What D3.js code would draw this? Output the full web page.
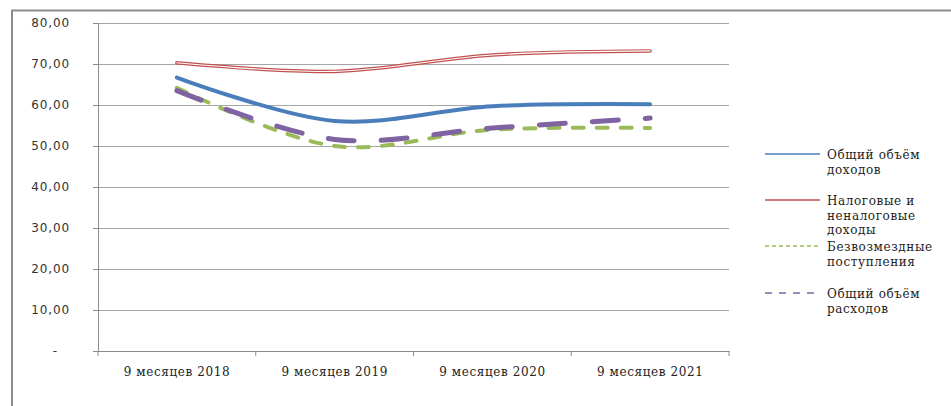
<!DOCTYPE html>
<html>
<head>
<meta charset="utf-8">
<script src="https://cdn.jsdelivr.net/npm/d3@7"></script>
<style>
  body { margin: 0; background: #fff; }
  #chart { width: 951px; height: 406px; }
</style>
</head>
<body>
<div id="chart"></div>
<script>
// Categories and series
const categories = ['9 месяцев 2018', '9 месяцев 2019', '9 месяцев 2020', '9 месяцев 2021'];
const totalIncome = [66.7, 56.1, 59.7, 60.2];
const taxIncome = [70.3, 68.2, 72.2, 73.2];
const grants = [64.2, 50.0, 54.0, 54.4];
const totalExpense = [63.5, 51.6, 54.4, 56.8];
const yTicks = [0, 10, 20, 30, 40, 50, 60, 70, 80];

const series = [
  { name: ['Общий объём', 'доходов'], values: totalIncome, color: '#4a7ebb', width: 4, dash: null },
  { name: ['Налоговые и', 'неналоговые', 'доходы'], values: taxIncome, color: '#c0504d', width: 3.5, dash: null, double: true },
  { name: ['Безвозмездные', 'поступления'], values: grants, color: '#9bbb59', width: 4, dash: '11,13' },
  { name: ['Общий объём', 'расходов'], values: totalExpense, color: '#8064a2', width: 5, dash: '26,27' }
];

const container = d3.select('#chart');
const svg = container.append('svg')
  .attr('width', 951)
  .attr('height', 406);

// outer frame (left and top edges visible)
svg.append('path')
  .attr('d', 'M12,406V10.5H951')
  .attr('fill', 'none')
  .attr('stroke', '#8c8c8c')
  .attr('stroke-width', 2);

const margin = { top: 23, left: 98, right: 222, bottom: 55 };
const width = 951 - margin.left - margin.right;
const height = 406 - margin.top - margin.bottom;

const g = svg.append('g')
  .attr('transform', `translate(${margin.left},${margin.top})`);

const x = d3.scaleBand()
  .domain(categories)
  .range([0, width]);

const y = d3.scaleLinear()
  .domain([0, 80])
  .range([height, 0]);

// gridlines
g.append('g')
  .selectAll('line')
  .data(yTicks)
  .enter().append('line')
    .attr('x1', 0)
    .attr('x2', width)
    .attr('y1', d => Math.round(y(d)) + 0.5)
    .attr('y2', d => Math.round(y(d)) + 0.5)
    .attr('stroke', '#a6a6a6')
    .attr('stroke-width', 1);

// y axis
const yAxis = g.append('g')
  .call(d3.axisLeft(y).tickValues(yTicks).tickSize(5).tickPadding(23)
    .tickFormat(d => d === 0 ? '-' : d3.format('.2f')(d).replace('.', ',')));
yAxis.select('.domain').attr('stroke', '#8c8c8c');
yAxis.selectAll('.tick line').attr('stroke', '#8c8c8c');
yAxis.selectAll('.tick text')
  .attr('font-family', 'DejaVu Sans')
  .attr('font-size', 12)
  .attr('letter-spacing', 0.9)
  .attr('fill', '#333');
yAxis.selectAll('.tick text').filter(d => d === 0).attr('dx', -12);

// x axis
const xAxis = g.append('g')
  .attr('transform', `translate(0,${height})`)
  .call(d3.axisBottom(x).tickSize(0).tickPadding(16));
xAxis.select('.domain').attr('stroke', '#8c8c8c');
xAxis.selectAll('.tick text')
  .attr('font-family', 'DejaVu Serif')
  .attr('font-size', 12)
  .attr('letter-spacing', 0.6)
  .attr('fill', '#222');
g.append('g')
  .selectAll('line')
  .data(categories.concat(['end']))
  .enter().append('line')
    .attr('x1', (d, i) => i < categories.length ? x(d) : width)
    .attr('x2', (d, i) => i < categories.length ? x(d) : width)
    .attr('y1', height)
    .attr('y2', height + 5)
    .attr('stroke', '#8c8c8c');

// lines
const line = d3.line()
  .x((d, i) => x(categories[i]) + x.bandwidth() / 2)
  .y(d => y(d))
  .curve(d3.curveCatmullRom.alpha(0.5));

series.forEach(s => {
  g.append('path')
    .datum(s.values)
    .attr('d', line)
    .attr('fill', 'none')
    .attr('stroke', s.color)
    .attr('stroke-width', s.width)
    .attr('stroke-linecap', 'round')
    .attr('stroke-dasharray', s.dash);
  if (s.double) {
    g.append('path')
      .datum(s.values)
      .attr('d', line)
      .attr('fill', 'none')
      .attr('stroke', '#fff')
      .attr('stroke-width', 1.2)
      .attr('stroke-linecap', 'round');
  }
});

// legend
const legendY = [154, 200, 246, 293];
const legend = svg.append('g');
series.forEach((s, i) => {
  const item = legend.append('g').attr('transform', `translate(765,${legendY[i]})`);
  item.append('line')
    .attr('x1', 0).attr('x2', 55)
    .attr('stroke', s.color)
    .attr('stroke-width', s.double ? 1.5 : 1.5)
    .attr('stroke-dasharray', s.dash ? (i === 2 ? '4,3' : '7,7') : null);
  item.selectAll('text')
    .data(s.name)
    .enter().append('text')
      .attr('x', 62)
      .attr('y', (d, j) => j * 14.5 + 5)
      .attr('font-family', 'DejaVu Serif')
      .attr('font-size', 12)
      .attr('letter-spacing', 0.6)
      .attr('fill', '#222')
      .text(d => d);
});
</script>
</body>
</html>
